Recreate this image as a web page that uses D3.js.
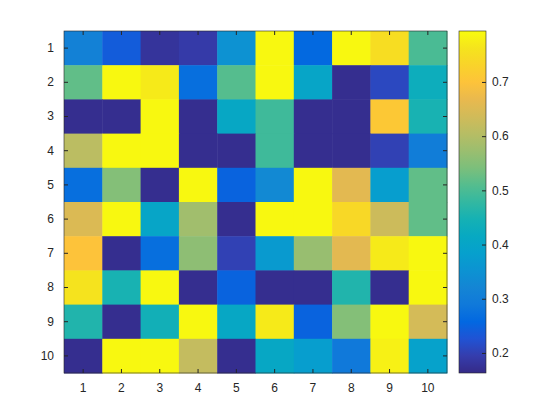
<!DOCTYPE html>
<html>
<head>
<meta charset="utf-8">
<script src="https://cdn.jsdelivr.net/npm/d3@7"></script>
<style>
    body { margin: 0; background: #fff; }
    svg text { font-family: "Liberation Sans", Arial, sans-serif; font-size: 12px; fill: #262626; }
</style>
</head>
<body>
<div id="chart"></div>
<script>
(function () {

    'use strict';

    // row labels (top to bottom) and column labels
    var rowLabels = ['1', '2', '3', '4', '5', '6', '7', '8', '9', '10'];
    var colLabels = ['1', '2', '3', '4', '5', '6', '7', '8', '9', '10'];

    // one array per row
    var row1 = [0.31, 0.24, 0.18, 0.19, 0.35, 0.79, 0.26, 0.79, 0.75, 0.50];
    var row2 = [0.52, 0.79, 0.77, 0.27, 0.51, 0.79, 0.40, 0.17, 0.21, 0.43];
    var row3 = [0.17, 0.17, 0.79, 0.17, 0.41, 0.49, 0.17, 0.17, 0.71, 0.45];
    var row4 = [0.61, 0.79, 0.79, 0.17, 0.17, 0.49, 0.17, 0.17, 0.20, 0.30];
    var row5 = [0.27, 0.55, 0.17, 0.79, 0.25, 0.33, 0.79, 0.66, 0.38, 0.52];
    var row6 = [0.65, 0.79, 0.40, 0.58, 0.17, 0.79, 0.79, 0.74, 0.63, 0.52];
    var row7 = [0.70, 0.17, 0.27, 0.56, 0.20, 0.37, 0.57, 0.66, 0.77, 0.79];
    var row8 = [0.76, 0.45, 0.79, 0.17, 0.25, 0.17, 0.17, 0.46, 0.17, 0.79];
    var row9 = [0.46, 0.17, 0.44, 0.79, 0.41, 0.77, 0.25, 0.55, 0.79, 0.64];
    var row10 = [0.17, 0.79, 0.79, 0.62, 0.17, 0.41, 0.38, 0.29, 0.78, 0.39];
    var rows = [row1, row2, row3, row4, row5, row6, row7, row8, row9, row10];

    var colorLimits = [0.163, 0.794];
    var colorbarTicks = [0.2, 0.3, 0.4, 0.5, 0.6, 0.7];

    // parula, sampled evenly from the 64 entry map
    var parulaStops = [
        '#352a87', '#353dad', '#2053d4', '#0268e1', '#1079da', '#1485d4',
        '#0c93d2', '#06a0cd', '#07a9c2', '#15b1b4', '#33b8a1', '#55bd8e',
        '#7cbf7b', '#9bbe6f', '#b7bd64', '#d1bb59', '#e9b94e', '#fdc33a',
        '#f9d32a', '#f5e41d', '#f9fb0e'
    ];

    var width = 560;
    var height = 420;
    var margin = { left: 64, top: 31, right: 113, bottom: 47 };

    var svg = d3.select('#chart')
        .append('svg')
            .attr('width', width)
            .attr('height', height);

    var x = d3.scaleBand()
        .domain(colLabels)
        .range([margin.left, width - margin.right]);

    var y = d3.scaleBand()
        .domain(rowLabels)
        .range([margin.top, height - margin.bottom]);

    var color = d3.scaleLinear()
        .domain(d3.range(parulaStops.length).map(function (i) {
            return colorLimits[0] + (colorLimits[1] - colorLimits[0]) * i / (parulaStops.length - 1);
        }))
        .range(parulaStops)
        .clamp(true);

    var cells = [];
    rows.forEach(function (r, i) {
        r.forEach(function (v, j) {
            cells.push({ row: rowLabels[i], col: colLabels[j], value: v });
        });
    });

    svg.append('g')
        .selectAll('rect')
        .data(cells)
        .enter()
        .append('rect')
            .attr('x', function (d) { return x(d.col); })
            .attr('y', function (d) { return y(d.row); })
            .attr('width', x.bandwidth() + 0.5)
            .attr('height', y.bandwidth() + 0.5)
            .attr('fill', function (d) { return color(d.value); });

    var axisColor = '#262626';
    var tickLen = 4;

    var styleAxis = function (g) {
        g.select('.domain').remove();
        g.selectAll('.tick line').attr('stroke', axisColor);
        g.selectAll('.tick text').style('fill', axisColor);
    };

    // ticks on all four sides point inward
    svg.append('g')
        .attr('transform', 'translate(0,' + (height - margin.bottom) + ')')
        .call(d3.axisBottom(x).tickSizeInner(-tickLen).tickSizeOuter(0).tickPadding(10))
        .call(styleAxis);

    svg.append('g')
        .attr('transform', 'translate(0,' + margin.top + ')')
        .call(d3.axisTop(x).tickSizeInner(-tickLen).tickSizeOuter(0).tickFormat(''))
        .call(styleAxis);

    svg.append('g')
        .attr('transform', 'translate(' + margin.left + ',0)')
        .call(d3.axisLeft(y).tickSizeInner(-tickLen).tickSizeOuter(0).tickPadding(10))
        .call(styleAxis);

    svg.append('g')
        .attr('transform', 'translate(' + (width - margin.right) + ',0)')
        .call(d3.axisRight(y).tickSizeInner(-tickLen).tickSizeOuter(0).tickFormat(''))
        .call(styleAxis);

    svg.append('rect')
        .attr('x', margin.left)
        .attr('y', margin.top)
        .attr('width', width - margin.left - margin.right)
        .attr('height', height - margin.top - margin.bottom)
        .attr('fill', 'none')
        .attr('stroke', axisColor)
        .attr('stroke-width', 0.6);

    // < colorbar >

    var cbX = 459;
    var cbW = 27;
    var cbY = d3.scaleLinear()
        .domain(colorLimits)
        .range([height - margin.bottom, margin.top]);

    var grad = svg.append('defs')
        .append('linearGradient')
            .attr('id', 'parula-grad')
            .attr('x1', 0).attr('y1', 1)
            .attr('x2', 0).attr('y2', 0);

    grad.selectAll('stop')
        .data(parulaStops)
        .enter()
        .append('stop')
            .attr('offset', function (d, i) { return (i / (parulaStops.length - 1) * 100) + '%'; })
            .attr('stop-color', function (d) { return d; });

    svg.append('rect')
        .attr('x', cbX)
        .attr('y', margin.top)
        .attr('width', cbW)
        .attr('height', height - margin.top - margin.bottom)
        .attr('fill', 'url(#parula-grad)')
        .attr('stroke', axisColor)
        .attr('stroke-width', 0.6);

    svg.append('g')
        .attr('transform', 'translate(' + (cbX + cbW) + ',0)')
        .call(d3.axisRight(cbY).tickValues(colorbarTicks).tickSizeInner(-tickLen).tickSizeOuter(0).tickPadding(6).tickFormat(d3.format('.1f')))
        .call(styleAxis);

}());
</script>
</body>
</html>
